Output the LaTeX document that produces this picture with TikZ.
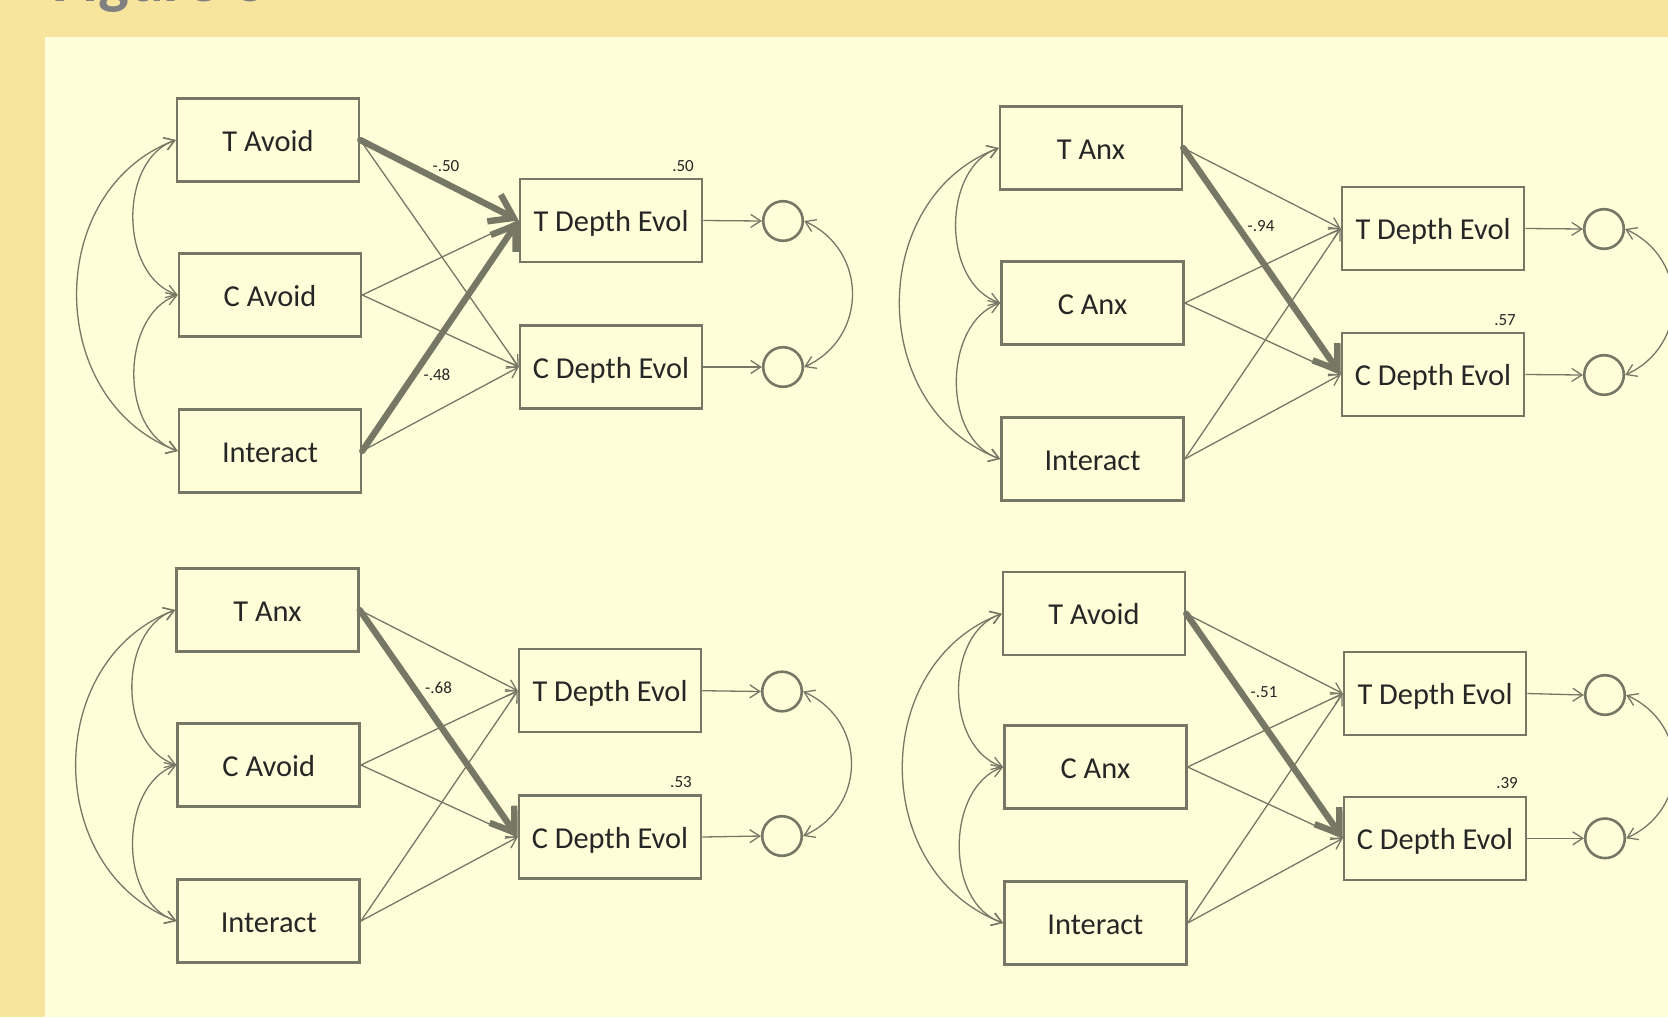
\documentclass[tikz,border=0pt]{standalone}
\usepackage{fontspec}
\setmainfont{Carlito}
\usetikzlibrary{arrows.meta,calc}
\definecolor{pagebg}{HTML}{F7E59E}
\definecolor{panelbg}{HTML}{FFFED9}
\definecolor{semline}{HTML}{777766}
\definecolor{semtext}{HTML}{262626}
\definecolor{headgray}{HTML}{808080}
\begin{document}
\begin{tikzpicture}[x=0.5pt,y=-0.5pt,
  varbox/.style={draw=semline, line width=1.25pt, minimum width=91pt, minimum height=41.5pt,
    inner sep=0pt, text height=12.5pt, text depth=1.5pt, text=semtext,
    font=\fontsize{15.2}{18}\selectfont},
  errc/.style={circle, draw=semline, line width=1.3pt, minimum size=19.8pt, inner sep=0pt},
  semthin/.style={draw=semline, line width=0.65pt, -{Straight Barb[length=5pt,width=6.5pt]}},
  semthick/.style={draw=semline, line width=3.2pt, line cap=round,
    -{Straight Barb[length=11pt,width=15pt]}},
  semcov/.style={draw=semline, line width=0.65pt,
    {Straight Barb[length=5pt,width=6.5pt]}-{Straight Barb[length=5pt,width=6.5pt]}},
  coef/.style={text=semtext, font=\fontsize{8.5}{10}\selectfont, inner sep=0pt}
]
\useasboundingbox (0,0) rectangle (1668,1017);
% page and panel backgrounds
\fill[pagebg] (0,0) rectangle (1668,1017);
\fill[panelbg] (45,37) rectangle (1668,1017);
\node[anchor=base west, inner sep=0pt, text=headgray,
  font=\fontsize{32.5}{36}\selectfont\bfseries] (fighead) at (52,1.5) {Figure 3};

% ---------------- model 1: T Avoid / C Avoid ----------------
\node[varbox] (p1ta) at (268,140) {T Avoid};
\node[varbox] (p1ca) at (270,295) {C Avoid};
\node[varbox] (p1in) at (270,451) {Interact};
\node[varbox] (p1td) at (611,220.5) {T Depth Evol};
\node[varbox] (p1cd) at (611,367) {C Depth Evol};
\node[errc] (p1e1) at (783,221) {};
\node[errc] (p1e2) at (783,367) {};
\draw[semthin] (p1ta.east) -- (p1cd.west);
\draw[semthin] (p1ca.east) -- (p1td.west);
\draw[semthin] (p1ca.east) -- (p1cd.west);
\draw[semthin] (p1in.east) -- (p1cd.west);
\draw[semthick] (p1ta.east) -- (p1td.west);
\draw[semthick] (p1in.east) -- (p1td.west);
\draw[semthin] (p1td.east) -- (p1e1.west);
\draw[semthin] (p1cd.east) -- (p1e2.west);
\draw[semcov] (p1ta.west) .. controls ($(p1ta.west)+(-57,20)$) and ($(p1ca.west)+(-59,-20)$) .. (p1ca.west);
\draw[semcov] (p1ca.west) .. controls ($(p1ca.west)+(-57,20)$) and ($(p1in.west)+(-59,-20)$) .. (p1in.west);
\draw[semcov] (p1ta.west) .. controls ($(p1ta.west)+(-132,50)$) and ($(p1in.west)+(-134,-51)$) .. (p1in.west);
\draw[semcov] (p1e1.east) .. controls ($(p1e1.east)+(64,29)$) and ($(p1e2.east)+(64,-29)$) .. (p1e2.east);
\node[coef] (p1b1) at (446,166) {-.50};
\node[coef] (p1b2) at (437,375) {-.48};
\node[coef] (p1r2) at (683,166) {.50};

% ---------------- model 2: T Anx / C Anx ----------------
\node[varbox] (p2tx) at (1091,148) {T Anx};
\node[varbox] (p2cx) at (1092.5,303) {C Anx};
\node[varbox] (p2in) at (1092.5,459) {Interact};
\node[varbox] (p2td) at (1433,228.5) {T Depth Evol};
\node[varbox] (p2cd) at (1433,374.5) {C Depth Evol};
\node[errc] (p2e1) at (1604,229) {};
\node[errc] (p2e2) at (1604,375) {};
\draw[semthin] (p2tx.east) -- (p2td.west);
\draw[semthin] (p2cx.east) -- (p2td.west);
\draw[semthin] (p2cx.east) -- (p2cd.west);
\draw[semthin] (p2in.east) -- (p2td.west);
\draw[semthin] (p2in.east) -- (p2cd.west);
\draw[semthick] (p2tx.east) -- (p2cd.west);
\draw[semthin] (p2td.east) -- (p2e1.west);
\draw[semthin] (p2cd.east) -- (p2e2.west);
\draw[semcov] (p2tx.west) .. controls ($(p2tx.west)+(-57,20)$) and ($(p2cx.west)+(-59,-20)$) .. (p2cx.west);
\draw[semcov] (p2cx.west) .. controls ($(p2cx.west)+(-57,20)$) and ($(p2in.west)+(-59,-20)$) .. (p2in.west);
\draw[semcov] (p2tx.west) .. controls ($(p2tx.west)+(-132,50)$) and ($(p2in.west)+(-134,-51)$) .. (p2in.west);
\draw[semcov] (p2e1.east) .. controls ($(p2e1.east)+(64,29)$) and ($(p2e2.east)+(64,-29)$) .. (p2e2.east);
\node[coef] (p2b1) at (1261,226) {-.94};
\node[coef] (p2r2) at (1505,320) {.57};

% ---------------- model 3: T Anx / C Avoid ----------------
\node[varbox] (p3tx) at (267.4,610) {T Anx};
\node[varbox] (p3ca) at (268.7,765) {C Avoid};
\node[varbox] (p3in) at (268.7,921) {Interact};
\node[varbox] (p3td) at (610,690.7) {T Depth Evol};
\node[varbox] (p3cd) at (610,837) {C Depth Evol};
\node[errc] (p3e1) at (782,691.5) {};
\node[errc] (p3e2) at (782,836) {};
\draw[semthin] (p3tx.east) -- (p3td.west);
\draw[semthin] (p3ca.east) -- (p3td.west);
\draw[semthin] (p3ca.east) -- (p3cd.west);
\draw[semthin] (p3in.east) -- (p3td.west);
\draw[semthin] (p3in.east) -- (p3cd.west);
\draw[semthick] (p3tx.east) -- (p3cd.west);
\draw[semthin] (p3td.east) -- (p3e1.west);
\draw[semthin] (p3cd.east) -- (p3e2.west);
\draw[semcov] (p3tx.west) .. controls ($(p3tx.west)+(-57,20)$) and ($(p3ca.west)+(-59,-20)$) .. (p3ca.west);
\draw[semcov] (p3ca.west) .. controls ($(p3ca.west)+(-57,20)$) and ($(p3in.west)+(-59,-20)$) .. (p3in.west);
\draw[semcov] (p3tx.west) .. controls ($(p3tx.west)+(-132,50)$) and ($(p3in.west)+(-134,-51)$) .. (p3in.west);
\draw[semcov] (p3e1.east) .. controls ($(p3e1.east)+(64,29)$) and ($(p3e2.east)+(64,-29)$) .. (p3e2.east);
\node[coef] (p3b1) at (438.6,688) {-.68};
\node[coef] (p3r2) at (681,782) {.53};

% ---------------- model 4: T Avoid / C Anx ----------------
\node[varbox] (p4ta) at (1094,613.7) {T Avoid};
\node[varbox] (p4cx) at (1095.4,767) {C Anx};
\node[varbox] (p4in) at (1095.4,923) {Interact};
\node[varbox] (p4td) at (1435,693.5) {T Depth Evol};
\node[varbox] (p4cd) at (1435,838.3) {C Depth Evol};
\node[errc] (p4e1) at (1605,695) {};
\node[errc] (p4e2) at (1605,838.3) {};
\draw[semthin] (p4ta.east) -- (p4td.west);
\draw[semthin] (p4cx.east) -- (p4td.west);
\draw[semthin] (p4cx.east) -- (p4cd.west);
\draw[semthin] (p4in.east) -- (p4td.west);
\draw[semthin] (p4in.east) -- (p4cd.west);
\draw[semthick] (p4ta.east) -- (p4cd.west);
\draw[semthin] (p4td.east) -- (p4e1.west);
\draw[semthin] (p4cd.east) -- (p4e2.west);
\draw[semcov] (p4ta.west) .. controls ($(p4ta.west)+(-57,20)$) and ($(p4cx.west)+(-59,-20)$) .. (p4cx.west);
\draw[semcov] (p4cx.west) .. controls ($(p4cx.west)+(-57,20)$) and ($(p4in.west)+(-59,-20)$) .. (p4in.west);
\draw[semcov] (p4ta.west) .. controls ($(p4ta.west)+(-132,50)$) and ($(p4in.west)+(-134,-51)$) .. (p4in.west);
\draw[semcov] (p4e1.east) .. controls ($(p4e1.east)+(64,29)$) and ($(p4e2.east)+(64,-29)$) .. (p4e2.east);
\node[coef] (p4b1) at (1264,692) {-.51};
\node[coef] (p4r2) at (1507,783) {.39};
\end{tikzpicture}
\end{document}
